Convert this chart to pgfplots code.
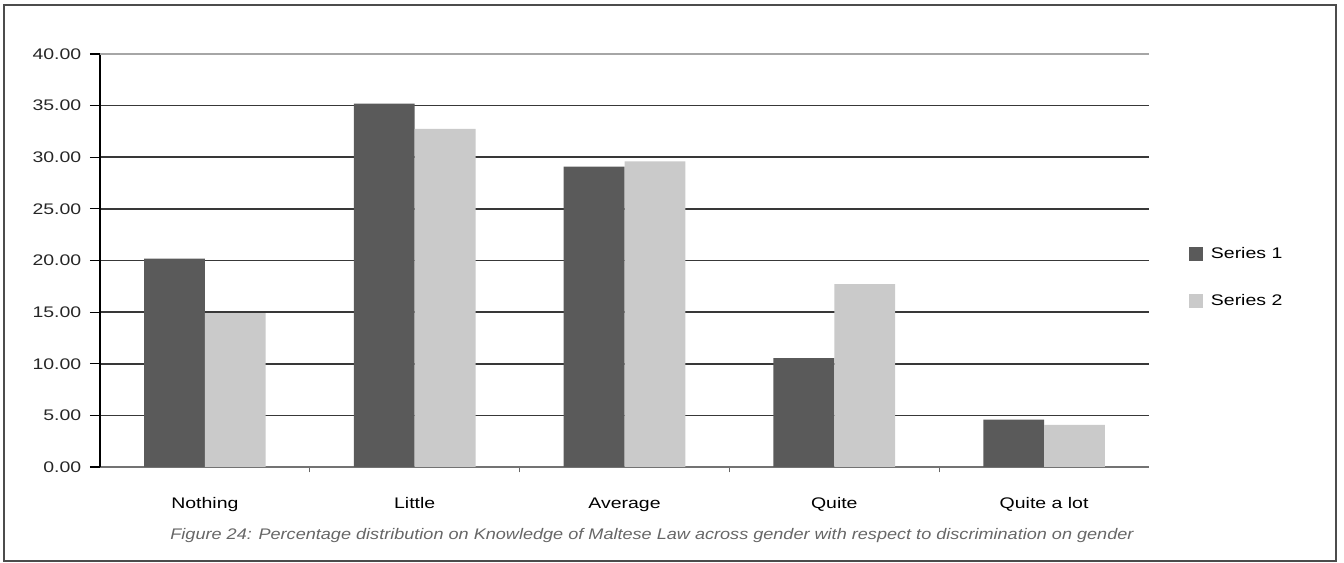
\documentclass[border=0pt]{standalone}
\usepackage{pgfplots}
\pgfplotsset{compat=1.18}
\usepackage{fontspec}
\setmainfont{Liberation Sans}
\definecolor{darkbar}{HTML}{5A5A5A}
\definecolor{lightbar}{HTML}{CACACA}
\newcommand{\wide}[1]{\scalebox{1.27}[1]{#1}}
\begin{document}
\begin{tikzpicture}
% picture measured in px (1px = 0.75pt), origin bottom left
\path[use as bounding box] (0,0) rectangle (1008pt,422.25pt);
\draw[line width=1.5pt, black!70] (3pt,1.5pt) rectangle (1002pt,418.5pt);
\begin{axis}[
  at={(75pt,72pt)}, anchor=south west, scale only axis,
  width=786.75pt, height=309.75pt,
  font=\fontsize{11.5}{13}\selectfont,
  ybar=0pt, bar width=0.29,
  xmin=-0.5, xmax=4.5, ymin=0, ymax=40,
  axis y line*=left, axis x line*=bottom,
  y axis line style={black, line width=0.8pt},
  x axis line style={black!55, line width=0.8pt},
  ytick={0,5,...,40},
  yticklabel={\wide{\pgfmathprintnumber[fixed,fixed zerofill,precision=2,assume math mode=true]{\tick}}},
  tick align=outside,
  ytick style={black, line width=0.8pt},
  major tick length=7.5pt,
  xtick={0,...,4},
  xticklabels={\wide{Nothing},\wide{Little},\wide{Average},\wide{Quite},\wide{Quite a lot}},
  major x tick style={draw=none},
  minor xtick={0.5,1.5,2.5,3.5},
  minor x tick style={black!60, line width=0.6pt},
  minor tick length=4pt,
  xticklabel style={yshift=-12pt},
  yticklabel style={xshift=-3pt, black!85},
  ymajorgrids,
  major grid style={black!78, line width=1.3pt},
  legend style={draw=none, fill=none, at={(1.034,0.545)}, anchor=north west,
    row sep=21pt, font=\fontsize{11.5}{13}\selectfont},
  legend cell align=left,
  legend image code/.code={\fill[#1] (0pt,-5.25pt) rectangle (10.5pt,5.25pt); \path (14.5pt,0pt);},
]
\addplot[fill=darkbar, draw=none] coordinates {(0,20.17) (1,35.2) (2,29.1) (3,10.55) (4,4.6)};
\addplot[fill=lightbar, draw=none] coordinates {(0,14.9) (1,32.75) (2,29.6) (3,17.7) (4,4.07)};
\legend{\wide{Series 1},\wide{Series 2}}
\draw[black!35, line width=1.3pt] (axis cs:-0.5,40) -- (axis cs:4.5,40);
\end{axis}
\node[black!60, font=\fontsize{11.5}{13}\selectfont\itshape] at (489pt,20.25pt) {\scalebox{1.18}[1]{Figure 24: Percentage distribution on Knowledge of Maltese Law across gender with respect to discrimination on gender}};
\end{tikzpicture}
\end{document}
